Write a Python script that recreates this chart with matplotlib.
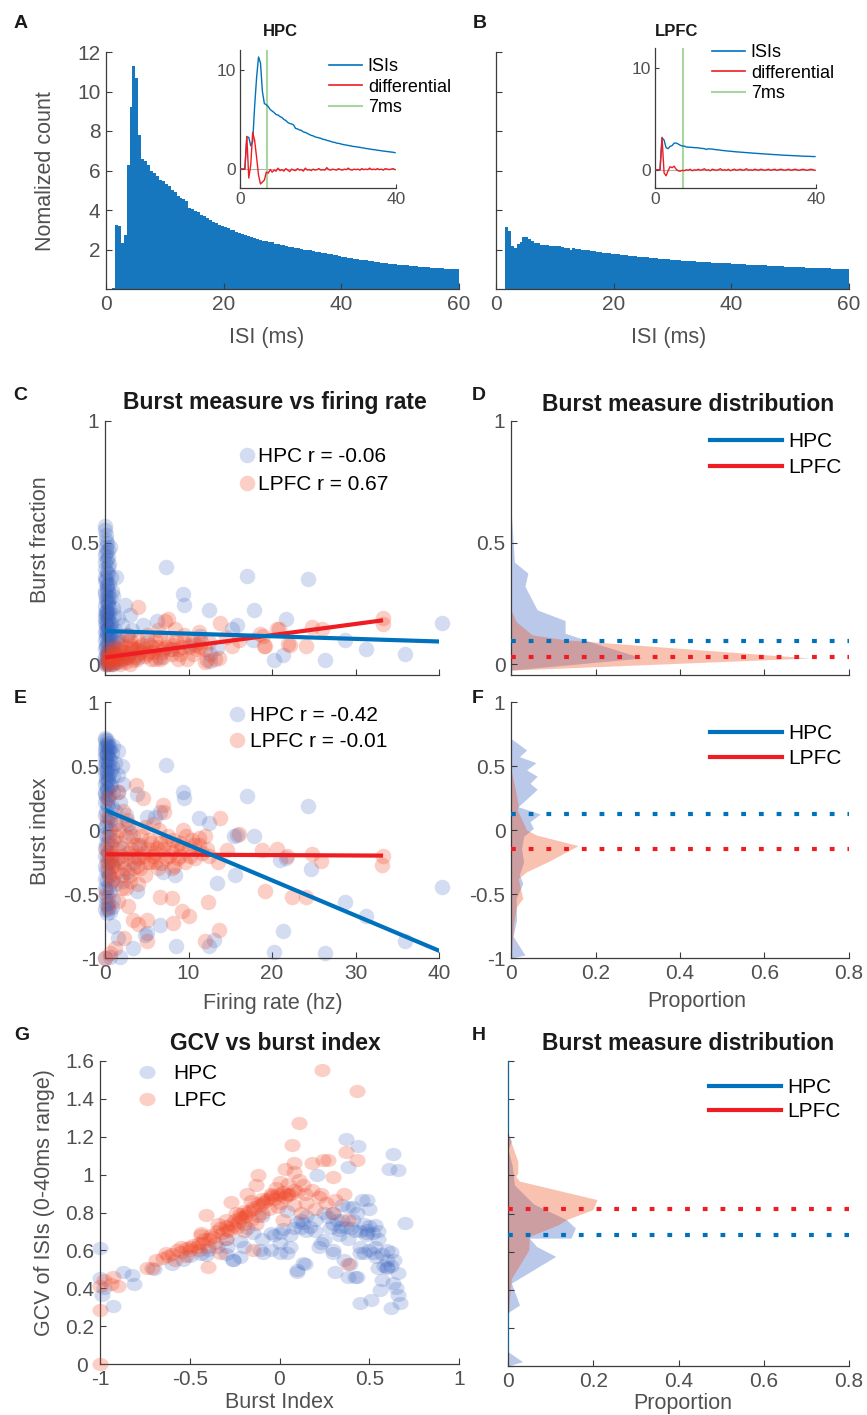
"""
Burst analysis figure: ISI histograms (A, B), burst measures vs firing rate (C, E),
their distributions (D, F), and GCV vs burst index (G, H).
"""

import matplotlib
matplotlib.use("Agg")
import matplotlib.pyplot as plt
import numpy as np
from matplotlib.lines import Line2D
from matplotlib.path import Path

plt.rcParams["font.family"] = ["Liberation Sans", "DejaVu Sans"]

W, H = 867, 1415

BAR = "#1677be"
BLUE = "#0072bd"
RED = "#ee1d23"
HPC_C = "#3a64c0"
LPFC_C = "#f04424"
GREEN = "#a8d5a0"
TICK = "#505050"
SPINE = "#3c3c3c"
INK = "#1a1a1a"

TICK_PT = 15
LABEL_PT = 15.5
LEG_PT = 15
TITLE_PT = 16.5

# ---------------- data ----------------
BIN_MS = 0.5  # ISI histogram bin width

# normalized ISI counts, 0-60 ms in 0.5 ms bins
hpc_isi = [
    0, 0, 0.05, 3.25, 3.2, 2.35, 2.75, 6.3, 9.2, 11.3,
    10.7, 7.8, 6.6, 6.5, 6.3, 6.0, 5.85, 5.7, 5.5, 5.45,
    5.3, 5.2, 5.0, 4.9, 4.7, 4.6, 4.55, 4.45, 4.1, 4.05,
    3.95, 3.9, 3.75, 3.7, 3.6, 3.5, 3.4, 3.35, 3.25, 3.2,
    3.15, 3.1, 3.0, 2.98, 2.9, 2.85, 2.8, 2.72, 2.7, 2.62,
    2.6, 2.55, 2.5, 2.45, 2.43, 2.38, 2.36, 2.3, 2.28, 2.25,
    2.22, 2.2, 2.15, 2.13, 2.08, 2.06, 2.02, 2.0, 1.96, 1.95,
    1.9, 1.88, 1.85, 1.82, 1.8, 1.77, 1.75, 1.72, 1.7, 1.66,
    1.62, 1.6, 1.58, 1.55, 1.54, 1.5, 1.49, 1.46, 1.45, 1.42,
    1.4, 1.38, 1.37, 1.34, 1.33, 1.3, 1.29, 1.27, 1.26, 1.24,
    1.22, 1.21, 1.19, 1.18, 1.16, 1.15, 1.13, 1.12, 1.1, 1.1,
    1.08, 1.07, 1.06, 1.05, 1.04, 1.03, 1.02, 1.01, 1.0, 0.99,
]
lpfc_isi = [
    0, 0, 0, 3.15, 2.93, 2.17, 2.08, 2.3, 2.38, 2.62,
    2.63, 2.54, 2.42, 2.34, 2.33, 2.25, 2.22, 2.22, 2.2, 2.18,
    2.17, 2.16, 2.12, 2.1, 2.08, 2.0, 2.06, 2.05, 2.03, 2.0,
    1.97, 1.96, 1.93, 1.9, 1.88, 1.86, 1.84, 1.82, 1.8, 1.78,
    1.76, 1.75, 1.73, 1.72, 1.7, 1.69, 1.67, 1.66, 1.64, 1.63,
    1.61, 1.6, 1.58, 1.57, 1.56, 1.54, 1.53, 1.52, 1.5, 1.49,
    1.48, 1.47, 1.45, 1.44, 1.43, 1.42, 1.41, 1.4, 1.39, 1.38,
    1.37, 1.36, 1.35, 1.34, 1.33, 1.33, 1.32, 1.31, 1.3, 1.3,
    1.29, 1.28, 1.27, 1.26, 1.25, 1.24, 1.24, 1.23, 1.22, 1.21,
    1.2, 1.19, 1.18, 1.17, 1.17, 1.16, 1.15, 1.14, 1.13, 1.13,
    1.12, 1.11, 1.1, 1.1, 1.09, 1.08, 1.08, 1.07, 1.06, 1.06,
    1.05, 1.05, 1.04, 1.04, 1.03, 1.03, 1.02, 1.02, 1.01, 1.01,
]

# differential of the ISI curve (first 40 ms), per 0.5 ms bin
hpc_diff = [
    0, 0, 0, 3.3, -0.9, 0.4, 3.7, 2.9, 1.2, -0.6,
    -1.5, -1.3, -1.1, -0.3, -0.4, -0.05, -0.3, -0.1, -0.2, 0.1,
    -0.15, -0.05, -0.2, 0.05, -0.1, -0.25, 0.0, -0.1, -0.15, 0.05,
    -0.1, -0.05, -0.2, 0.1, -0.1, -0.05, -0.15, 0.0, -0.1, -0.05,
    0.05, -0.1, -0.05, -0.1, 0.15, -0.05, -0.1, 0.0, -0.05, -0.1,
    0.05, -0.05, -0.1, 0.0, -0.05, 0.1, -0.05, -0.1, 0.0, -0.05,
    0.0, -0.1, 0.05, -0.05, 0.0, -0.05, 0.1, -0.05, 0.0, -0.05,
    0.05, -0.05, 0.0, -0.1, 0.05, 0.0, -0.05, 0.0, 0.05, -0.05,
]
lpfc_diff = [
    0, 0, 0, 3.2, -0.3, -0.6, -0.1, 0.3, 0.2, 0.35,
    0.05, -0.1, -0.15, -0.05, -0.1, 0.0, -0.05, 0.05, -0.1, 0.0,
    -0.05, 0.05, -0.05, 0.0, 0.1, -0.05, 0.0, -0.1, 0.05, 0.0,
    -0.05, 0.0, 0.1, -0.05, 0.0, -0.05, 0.05, -0.1, 0.0, 0.05,
    -0.05, 0.0, 0.05, -0.05, 0.0, 0.1, -0.05, 0.0, -0.05, 0.05,
    0.0, -0.05, 0.05, 0.0, -0.05, 0.0, 0.05, -0.05, 0.0, 0.05,
    -0.05, 0.0, 0.05, 0.0, -0.05, 0.0, 0.05, -0.05, 0.0, 0.05,
    0.0, -0.05, 0.0, 0.05, 0.0, -0.05, 0.0, 0.05, 0.0, -0.05,
]
burst_cut_ms = 7

# C: firing rate (hz) vs burst fraction
hpc_rate_frac = [
    (0.05, 0.57), (0.1, 0.53), (0.2, 0.50), (0.6, 0.48), (0.1, 0.46), (0.3, 0.44),
    (0.05, 0.42), (0.4, 0.40), (0.2, 0.38), (1.3, 0.36), (0.1, 0.35), (0.5, 0.33),
    (0.2, 0.31), (0.8, 0.30), (0.05, 0.29), (0.3, 0.28), (0.6, 0.27), (0.1, 0.26),
    (2.4, 0.245), (0.4, 0.24), (1.0, 0.23), (0.2, 0.22), (3.0, 0.20), (0.5, 0.21),
    (0.1, 0.20), (1.5, 0.19), (0.3, 0.18), (0.7, 0.17), (2.0, 0.16), (0.1, 0.16),
    (0.4, 0.15), (1.2, 0.14), (0.2, 0.13), (0.6, 0.12), (2.6, 0.12), (0.1, 0.11),
    (0.9, 0.10), (0.3, 0.09), (1.8, 0.08), (0.1, 0.07), (0.5, 0.06), (3.5, 0.06),
    (0.2, 0.05), (1.1, 0.04), (0.05, 0.03), (0.4, 0.02), (2.2, 0.02), (0.1, 0.01),
    (0.7, 0.0), (0.2, 0.0), (1.5, 0.01), (4.0, 0.03), (0.3, 0.04), (0.8, 0.08),
    (1.6, 0.11), (0.15, 0.14), (0.35, 0.25), (0.25, 0.33), (0.45, 0.12), (0.05, 0.19),
    (0.0, 0.55), (0.15, 0.51), (0.3, 0.47), (0.0, 0.45), (0.2, 0.43), (0.5, 0.41),
    (0.0, 0.39), (0.3, 0.37), (0.7, 0.36), (0.0, 0.34), (0.2, 0.32), (0.4, 0.30),
    (0.0, 0.30), (0.9, 0.28), (0.1, 0.27), (0.3, 0.26), (0.0, 0.24), (0.6, 0.23),
    (0.2, 0.21), (0.0, 0.21), (1.1, 0.20), (0.4, 0.19), (0.1, 0.18), (0.0, 0.17),
    (0.6, 0.16), (0.3, 0.15), (0.0, 0.13), (0.9, 0.13), (0.2, 0.12), (0.5, 0.11),
    (0.0, 0.10), (1.3, 0.10), (0.3, 0.08), (0.1, 0.08), (0.7, 0.07), (0.0, 0.06),
    (0.4, 0.05), (0.9, 0.05), (0.2, 0.03), (0.0, 0.02), (0.6, 0.02), (1.2, 0.02),
    (0.3, 0.01), (0.0, 0.0), (0.5, 0.0), (1.0, 0.0), (0.15, 0.22), (0.25, 0.16),
    (0.05, 0.36), (0.1, 0.48),
    (7.3, 0.40), (17.0, 0.364), (24.3, 0.348), (9.3, 0.287), (9.5, 0.241), (12.5, 0.222),
    (17.9, 0.222), (6.2, 0.176), (15.8, 0.16), (15.2, 0.143), (21.7, 0.184), (40.4, 0.17),
    (28.8, 0.10), (31.2, 0.064), (35.9, 0.04), (20.2, 0.016), (21.3, 0.037), (26.4, 0.016),
    (12.6, 0.012), (12.6, 0.04), (13.4, 0.065), (17.7, 0.10), (11.4, 0.116), (5.0, 0.09),
    (3.2, 0.14), (6.5, 0.03), (8.0, 0.06), (4.5, 0.16), (2.8, 0.03), (10.2, 0.08),
]
lpfc_rate_frac = [
    (0.1, 0.0), (0.3, 0.01), (0.5, 0.02), (0.8, 0.0), (1.0, 0.03), (1.3, 0.01),
    (1.6, 0.04), (2.0, 0.02), (2.3, 0.05), (2.6, 0.03), (3.0, 0.0), (3.4, 0.018),
    (3.7, 0.06), (4.0, 0.04), (4.4, 0.08), (4.8, 0.033), (5.2, 0.05), (5.6, 0.07),
    (6.0, 0.02), (6.6, 0.02), (7.0, 0.06), (7.5, 0.09), (8.0, 0.04), (8.4, 0.143),
    (8.7, 0.02), (9.2, 0.07), (9.8, 0.02), (10.5, 0.10), (11.0, 0.06), (11.5, 0.09),
    (12.0, 0.06), (12.0, 0.008), (12.2, 0.016), (13.2, 0.02), (13.6, 0.023), (13.8, 0.17),
    (4.0, 0.233), (7.2, 0.176), (7.5, 0.184), (15.2, 0.074), (18.6, 0.123), (18.9, 0.116),
    (19.2, 0.074), (19.0, 0.075), (20.6, 0.143), (20.8, 0.146), (21.9, 0.082), (22.2, 0.08),
    (24.1, 0.075), (24.8, 0.153), (26.0, 0.146), (33.3, 0.19), (33.3, 0.164), (6.6, 0.11),
    (5.0, 0.12), (2.0, 0.09), (0.5, 0.06), (1.2, 0.07), (3.0, 0.10), (9.5, 0.12),
    (10.5, 0.04), (14.5, 0.11), (16.0, 0.10), (0.2, 0.04), (1.8, 0.0), (2.8, 0.12),
    (6.3, 0.14), (11.2, 0.13),
    (0.2, 0.02), (0.6, 0.03), (0.9, 0.05), (1.4, 0.02), (1.7, 0.06), (2.2, 0.03),
    (2.5, 0.07), (2.9, 0.04), (3.2, 0.06), (3.5, 0.03), (3.9, 0.07), (4.2, 0.05),
    (4.6, 0.06), (5.0, 0.04), (5.4, 0.08), (5.8, 0.05), (6.2, 0.07), (6.8, 0.05),
    (7.3, 0.07), (7.8, 0.06), (8.2, 0.08), (8.8, 0.06), (9.4, 0.09), (10.0, 0.07),
    (10.8, 0.08), (11.4, 0.07), (12.4, 0.09), (0.4, 0.0), (1.1, 0.01), (2.4, 0.01),
    (3.8, 0.02), (5.5, 0.02), (7.0, 0.03), (8.5, 0.1), (6.0, 0.1), (4.0, 0.1),
    (2.0, 0.05), (1.0, 0.04), (3.0, 0.08), (9.0, 0.04),
]

# E: firing rate (hz) vs burst index
hpc_rate_bidx = [
    (0.05, 0.72), (0.2, 0.70), (0.4, 0.68), (0.1, 0.66), (0.6, 0.65), (0.3, 0.63),
    (0.05, 0.61), (0.8, 0.60), (0.2, 0.58), (0.5, 0.56), (0.1, 0.54), (1.2, 0.52),
    (0.3, 0.50), (0.05, 0.48), (0.7, 0.46), (0.2, 0.44), (1.5, 0.43), (0.4, 0.40),
    (0.1, 0.38), (2.2, 0.36), (0.6, 0.34), (0.2, 0.32), (1.0, 0.30), (0.05, 0.28),
    (0.4, 0.25), (1.8, 0.22), (0.2, 0.20), (0.8, 0.18), (0.1, 0.15), (2.5, 0.12),
    (0.5, 0.10), (0.2, 0.07), (1.3, 0.05), (0.05, 0.02), (0.6, 0.0), (3.0, -0.02),
    (0.2, -0.05), (1.0, -0.08), (0.1, -0.11), (2.0, -0.14), (0.4, -0.17), (0.05, -0.20),
    (1.5, -0.22), (0.3, -0.25), (0.8, -0.28), (0.1, -0.31), (2.6, -0.33), (0.5, -0.36),
    (0.2, -0.39), (1.2, -0.42), (0.05, -0.45), (0.6, -0.48), (0.3, -0.52), (1.0, -0.55),
    (0.1, -0.58), (0.4, -0.62), (0.2, -0.65), (3.5, -0.25), (4.2, -0.12), (2.8, 0.05),
    (5.0, 0.10), (3.8, 0.28),
    (0.0, 0.70), (0.15, 0.67), (0.3, 0.66), (0.0, 0.64), (0.45, 0.62), (0.1, 0.60),
    (0.25, 0.59), (0.0, 0.57), (0.6, 0.55), (0.15, 0.53), (0.35, 0.52), (0.0, 0.51),
    (0.8, 0.49), (0.2, 0.47), (0.05, 0.45), (0.45, 0.44), (1.0, 0.42), (0.1, 0.41),
    (0.3, 0.38), (0.0, 0.36), (0.7, 0.35), (0.2, 0.33), (0.0, 0.30), (0.5, 0.28),
    (0.1, 0.26), (0.0, 0.22), (0.3, 0.18), (0.0, 0.12), (0.6, 0.08), (0.1, 0.03),
    (0.0, -0.03), (0.4, -0.09), (0.0, -0.14), (0.2, -0.2), (0.7, -0.24), (0.0, -0.28),
    (0.3, -0.33), (0.0, -0.38), (0.5, -0.43), (0.1, -0.47), (0.0, -0.52), (0.3, -0.57),
    (0.0, -0.62), (0.8, -0.6), (1.5, 0.62), (1.0, 0.66), (2.0, 0.50), (1.6, 0.30),
    (1.2, 0.15), (2.2, -0.4),
    (7.3, 0.506), (9.3, 0.30), (9.5, 0.247), (17.0, 0.265), (24.3, 0.19), (11.2, 0.096),
    (12.5, 0.052), (6.0, 0.104), (6.6, 0.143), (15.4, -0.044), (15.8, -0.04), (17.9, -0.047),
    (20.9, -0.234), (21.7, -0.216), (24.7, -0.304), (15.6, -0.35), (7.0, -0.33), (8.4, -0.35),
    (13.4, -0.416), (28.8, -0.564), (31.3, -0.675), (40.4, -0.447), (35.9, -0.87), (21.3, -0.79),
    (20.2, -0.95), (26.4, -0.96), (13.0, -0.857), (12.5, -0.91), (8.5, -0.91), (6.6, -0.74),
    (5.0, -0.805), (3.4, -0.92), (1.6, -0.844), (0.6, -0.99), (1.8, -0.99), (0.0, -1.0),
    (0.6, -0.64), (3.8, -0.48), (4.8, -0.82), (1.0, -0.75),
]
lpfc_rate_bidx = [
    (0.1, -0.15), (0.3, -0.30), (0.5, -0.05), (0.2, 0.1), (0.8, -0.40), (1.0, -0.20),
    (1.2, 0.05), (1.5, -0.32), (1.8, -0.10), (2.0, -0.25), (2.2, 0.15), (2.5, -0.45),
    (2.8, -0.18), (3.0, 0.02), (3.3, -0.30), (3.6, -0.12), (3.7, 0.35), (4.0, -0.22),
    (4.3, -0.05), (4.6, 0.247), (4.8, -0.35), (5.1, -0.15), (5.4, -0.25), (5.7, 0.05),
    (6.0, -0.18), (6.3, -0.30), (6.6, -0.10), (6.9, 0.195), (7.1, 0.143), (7.3, -0.22),
    (7.6, -0.05), (8.0, -0.17), (8.3, -0.28), (8.6, -0.12), (9.0, -0.20), (9.3, 0.0),
    (9.6, -0.25), (10.0, -0.15), (10.4, -0.08), (10.8, -0.22), (11.2, -0.12), (11.6, -0.18),
    (12.0, -0.05), (12.5, -0.20), (13.5, -0.247), (13.8, 0.09), (14.6, -0.16), (16.0, -0.03),
    (18.8, -0.156), (20.6, -0.15), (21.8, -0.2), (24.8, -0.19), (25.9, -0.24), (33.3, -0.2),
    (33.2, -0.27), (19.2, -0.48), (22.4, -0.52), (24.1, -0.52), (12.3, -0.564), (9.2, -0.636),
    (10.1, -0.67), (6.6, -0.52), (8.0, -0.532), (13.6, -0.78), (12.0, -0.87), (5.0, -0.70),
    (5.0, -0.87), (8.2, -0.73), (3.4, -0.70), (4.0, -0.735), (2.3, -0.844), (1.2, -0.92),
    (0.6, -0.96), (0.0, -1.0), (1.6, -0.558), (2.8, -0.597), (0.4, 0.25), (1.5, 0.30),
    (0.1, -0.5), (0.3, -0.6), (2.0, -0.35), (3.0, -0.40), (1.0, -0.28), (0.6, -0.22),
    (4.5, -0.20), (3.8, -0.28), (5.5, -0.10), (2.5, -0.05), (7.0, -0.15), (9.0, -0.10),
    (6.0, -0.25),
    (0.3, -0.18), (0.7, -0.12), (1.1, -0.25), (1.4, -0.15), (1.9, -0.2), (2.3, -0.3),
    (2.7, -0.22), (3.1, -0.15), (3.5, -0.2), (3.9, -0.12), (4.2, -0.3), (4.6, -0.18),
    (5.0, -0.25), (5.3, -0.08), (5.8, -0.2), (6.2, -0.14), (6.7, -0.26), (7.2, -0.1),
    (7.7, -0.2), (8.2, -0.08), (8.7, -0.22), (9.1, -0.14), (9.7, -0.05), (10.2, -0.2),
    (10.7, -0.12), (11.3, -0.06), (12.2, -0.15), (1.0, -0.38), (2.0, -0.45), (3.0, -0.35),
    (4.0, -0.42), (0.5, -0.35), (1.7, 0.0), (2.6, 0.08), (6.5, 0.0), (8.0, -0.3),
    (4.8, 0.02), (0.2, -0.25), (1.3, -0.05), (3.4, -0.05),
]

# linear fits (intercept, slope) and correlation coefficients
hpc_fit_frac = (0.136, -0.00108)
lpfc_fit_frac = (0.027, 0.0046)
hpc_fit_bidx = (0.157, -0.0275)
lpfc_fit_bidx = (-0.19, -0.0003)
r_frac = {"HPC": -0.06, "LPFC": 0.67}
r_bidx = {"HPC": -0.42, "LPFC": -0.01}

# G: burst index vs GCV of ISIs
hpc_bidx_gcv = [
    (-1.0, 0.61), (-1.0, 0.452), (-0.93, 0.308), (-0.99, 0.364), (-0.87, 0.487), (-0.81, 0.425),
    (-0.82, 0.47), (-0.54, 0.55), (-0.44, 0.58), (-0.41, 0.575), (-0.26, 0.55), (-0.22, 0.566),
    (-0.09, 0.584), (-0.05, 0.60), (0.04, 0.584), (0.1, 0.487), (0.14, 0.53), (0.06, 0.68),
    (0.12, 0.76), (0.17, 0.724), (0.22, 0.62), (0.25, 0.654), (0.3, 0.584), (0.31, 0.487),
    (0.36, 0.55), (0.39, 0.53), (0.42, 0.46), (0.45, 0.32), (0.51, 0.34), (0.45, 0.584),
    (0.49, 0.69), (0.46, 0.865), (0.41, 0.83), (0.32, 0.76), (0.3, 0.795), (0.37, 0.724),
    (0.53, 0.733), (0.52, 0.69), (0.55, 0.505), (0.6, 0.505), (0.6, 0.6), (0.62, 0.594),
    (0.66, 0.478), (0.57, 0.446), (0.65, 0.4), (0.66, 0.364), (0.62, 0.294), (0.67, 0.32),
    (0.56, 0.39), (0.7, 0.745), (0.63, 1.11), (0.61, 1.03), (0.66, 1.023), (0.37, 1.19),
    (0.44, 1.15), (0.38, 1.04), (0.21, 1.0), (0.53, 0.62), (0.52, 0.584), (-0.22, 0.65),
    (-0.29, 0.62), (-0.03, 0.68), (0.02, 0.715), (-0.15, 0.69), (0.13, 0.745), (0.34, 0.724),
    (0.49, 0.71), (0.27, 0.777), (0.41, 0.76), (0.47, 0.585), (0.54, 0.565), (0.6, 0.51),
    (0.63, 0.43), (0.49, 0.866), (0.38, 0.83), (0.13, 0.533), (0.10, 0.496), (0.0, 0.586),
    (-0.05, 0.69), (-0.11, 0.60), (-0.26, 0.55), (0.0, 0.69), (0.04, 0.81), (0.23, 0.64),
    (0.30, 0.60), (0.38, 0.46), (0.43, 0.46), (-0.35, 0.62), (-0.6, 0.53), (-0.7, 0.50),
    (-0.3, 0.66), (-0.18, 0.72), (-0.1, 0.78), (0.08, 0.72), (0.15, 0.70), (0.2, 0.76),
    (0.33, 0.68), (0.42, 0.70), (0.47, 0.74), (0.55, 0.66), (0.58, 0.52), (0.64, 0.55),
    (-0.98, 0.40),
    (0.10, 0.75), (0.15, 0.78), (0.12, 0.72), (0.3, 0.74), (0.35, 0.76), (0.4, 0.72),
    (0.33, 0.71), (0.45, 0.70), (0.5, 0.73), (0.48, 0.68), (0.55, 0.70), (0.38, 0.66),
    (0.28, 0.72), (0.2, 0.70), (0.25, 0.8), (0.5, 0.6), (0.57, 0.58), (0.6, 0.55),
    (0.62, 0.52), (0.45, 0.62), (-0.2, 0.62), (-0.4, 0.6), (-0.3, 0.58), (-0.5, 0.57),
    (0.06, 0.62), (0.0, 0.64), (-0.1, 0.66), (0.43, 0.8), (0.5, 0.82), (0.35, 0.84),
]
lpfc_bidx_gcv = [
    (-1.0, 0.0), (-1.0, 0.285), (-1.0, 0.41), (-0.98, 0.443), (-0.93, 0.46), (-0.94, 0.425),
    (-0.9, 0.41), (-0.74, 0.505), (-0.71, 0.505), (-0.69, 0.55), (-0.63, 0.584), (-0.55, 0.62),
    (-0.5, 0.62), (-0.44, 0.69), (-0.41, 0.786), (-0.4, 0.513), (-0.27, 0.856), (-0.3, 0.76),
    (-0.22, 0.777), (-0.18, 0.9), (-0.13, 0.944), (-0.12, 0.997), (-0.15, 0.602), (-0.33, 0.584),
    (-0.05, 0.9), (0.04, 0.9), (0.0, 0.96), (0.03, 1.03), (0.08, 1.06), (0.07, 1.155),
    (0.11, 1.27), (0.08, 1.015), (0.13, 0.944), (0.11, 0.97), (0.18, 1.06), (0.24, 1.076),
    (0.27, 1.076), (0.3, 0.988), (0.235, 1.55), (0.43, 1.44), (0.37, 1.12), (0.43, 1.076),
    (0.36, 0.9), (0.38, 0.76), (0.38, 0.53), (0.23, 0.9), (0.15, 0.85), (0.31, 0.865),
    (0.02, 0.76), (-0.01, 0.83),
    (-0.65, 0.56), (-0.6, 0.58), (-0.57, 0.60), (-0.52, 0.61), (-0.48, 0.63), (-0.45, 0.64),
    (-0.42, 0.66), (-0.38, 0.68), (-0.35, 0.70), (-0.33, 0.72), (-0.3, 0.73), (-0.27, 0.74),
    (-0.25, 0.76), (-0.22, 0.79), (-0.2, 0.81), (-0.18, 0.80), (-0.15, 0.83), (-0.12, 0.85),
    (-0.1, 0.87), (-0.08, 0.86), (-0.05, 0.88), (-0.03, 0.87), (0.0, 0.89), (0.03, 0.88),
    (0.06, 0.90), (0.1, 0.91), (0.14, 0.90), (0.18, 0.92), (0.22, 0.88), (-0.4, 0.62),
    (-0.36, 0.64), (-0.28, 0.70), (-0.24, 0.72), (-0.16, 0.76), (-0.1, 0.80), (-0.06, 0.82),
    (-0.2, 0.70), (-0.13, 0.74), (-0.45, 0.60), (-0.52, 0.57), (-0.58, 0.55), (-0.3, 0.66),
    (0.08, 0.84), (0.12, 0.80), (0.2, 0.82), (0.26, 0.85), (0.3, 0.80), (0.05, 0.95),
    (-0.02, 0.93),
    (-0.62, 0.57), (-0.55, 0.59), (-0.5, 0.6), (-0.46, 0.62), (-0.43, 0.64), (-0.39, 0.66),
    (-0.37, 0.67), (-0.32, 0.69), (-0.29, 0.71), (-0.26, 0.73), (-0.23, 0.75), (-0.21, 0.77),
    (-0.19, 0.78), (-0.17, 0.81), (-0.14, 0.82), (-0.11, 0.84), (-0.09, 0.85), (-0.07, 0.87),
    (-0.04, 0.89), (-0.01, 0.9), (0.02, 0.91), (0.05, 0.89), (0.08, 0.92), (-0.16, 0.86),
    (-0.24, 0.80), (-0.34, 0.74), (-0.44, 0.68), (-0.2, 0.74), (-0.12, 0.78), (0.0, 0.85),
]

# distributions: (value, proportion) outline vertices
hpc_frac_dist = [(-0.025, 0), (0.025, 0.31), (0.085, 0.2), (0.127, 0.128), (0.179, 0.128),
                 (0.223, 0.062), (0.32, 0.033), (0.374, 0.04), (0.42, 0.008), (0.6, 0.0015), (0.62, 0)]
lpfc_frac_dist = [(-0.025, 0), (0.025, 0.707), (0.1, 0.128), (0.12, 0.05), (0.175, 0.012), (0.223, 0)]
hpc_bidx_dist = [(-1.0, 0), (-0.977, 0.033), (-0.83, 0.005), (-0.703, 0.013), (-0.534, 0.012),
                 (-0.417, 0.028), (-0.35, 0.02), (-0.25, 0.03), (-0.15, 0.025), (-0.05, 0.03),
                 (0.013, 0.053), (0.065, 0.045), (0.125, 0.069), (0.182, 0.017), (0.318, 0.062),
                 (0.365, 0.045), (0.42, 0.062), (0.469, 0.037), (0.526, 0.059), (0.573, 0.02),
                 (0.625, 0.037), (0.715, 0)]
lpfc_bidx_dist = [(-0.99, 0), (-0.94, 0.002), (-0.73, 0.006), (-0.6, 0.013), (-0.534, 0.028),
                  (-0.378, 0.017), (-0.326, 0.037), (-0.247, 0.088), (-0.122, 0.159), (-0.04, 0.061),
                  (0.0, 0.037), (0.156, 0.015), (0.195, 0.017), (0.339, 0.009), (0.469, 0)]
hpc_gcv_dist = [(0.0, 0), (0.023, 0.034), (0.075, 0.0), (0.277, 0.0), (0.286, 0.004), (0.32, 0.027),
                (0.435, 0.008), (0.575, 0.112), (0.627, 0.067), (0.671, 0.05), (0.671, 0.148),
                (0.724, 0.158), (0.768, 0.137), (0.85, 0.06), (0.95, 0.015), (1.05, 0.01),
                (1.136, 0.0), (1.18, 0.008), (1.22, 0.0), (1.6, 0.0)]
lpfc_gcv_dist = [(0.242, 0), (0.365, 0.004), (0.46, 0.008), (0.513, 0.023), (0.61, 0.049),
                 (0.68, 0.05), (0.74, 0.117), (0.768, 0.137), (0.82, 0.199), (0.873, 0.209),
                 (0.97, 0.027), (0.995, 0.018), (1.013, 0.023), (1.074, 0.023), (1.2, 0.003), (1.22, 0)]

# group centres drawn as dotted lines
frac_center = {"HPC": 0.094, "LPFC": 0.029}
bidx_center = {"HPC": 0.125, "LPFC": -0.148}
gcv_center = {"HPC": 0.686, "LPFC": 0.824}

# ---------------- drawing helpers ----------------
fig = plt.figure(figsize=(W / 100, H / 100), dpi=100)


def add_ax(l, t, r, b):
    return fig.add_axes([l / W, 1 - b / H, (r - l) / W, (b - t) / H])


def ftext(x, y, s, **kw):
    kw.setdefault("ha", "center")
    kw.setdefault("va", "center")
    fig.text(x / W, 1 - y / H, s, **kw)


def style(ax, size=TICK_PT, length=4):
    for s in ("top", "right"):
        ax.spines[s].set_visible(False)
    for s in ("left", "bottom"):
        ax.spines[s].set_color(SPINE)
        ax.spines[s].set_linewidth(0.9)
    ax.tick_params(direction="in", length=length, width=0.8, color=SPINE,
                   labelcolor=TICK, labelsize=size)
    ax.tick_params(axis="x", pad=4.5 if size >= 14 else 3)
    ax.tick_params(axis="y", pad=4 if size >= 14 else 3)


def line_legend(ax, x, top, spacing):
    handles = [Line2D([], [], color=c, lw=3) for c in (BLUE, RED)]
    ax.legend(handles, ["HPC", "LPFC"], loc="upper left", bbox_to_anchor=(x / W, 1 - top / H),
              bbox_transform=fig.transFigure, frameon=False, fontsize=LEG_PT,
              handlelength=3.45, handletextpad=0.3, borderpad=0, borderaxespad=0,
              labelspacing=spacing)


def dot_legend(ax, labels, x, top, marker, ms, hl=1.0, pad=0.05, spacing=0.4):
    handles = [
        Line2D([], [], ls="", marker=marker, markersize=ms, markerfacecolor=HPC_C,
               markeredgecolor="none", alpha=0.22),
        Line2D([], [], ls="", marker=marker, markersize=ms, markerfacecolor=LPFC_C,
               markeredgecolor="none", alpha=0.26),
    ]
    ax.legend(handles, labels, loc="upper left", bbox_to_anchor=(x / W, 1 - top / H),
              bbox_transform=fig.transFigure, frameon=False, fontsize=LEG_PT,
              handlelength=hl, handletextpad=pad, borderpad=0, borderaxespad=0,
              labelspacing=spacing)


def scatter_pair(ax, hpc, lpfc, marker="o", s=125):
    hx, hy = np.array(hpc).T
    lx, ly = np.array(lpfc).T
    ax.scatter(hx, hy, s=s, marker=marker, color=HPC_C, alpha=0.22, lw=0, clip_on=False, zorder=2)
    ax.scatter(lx, ly, s=s, marker=marker, color=LPFC_C, alpha=0.26, lw=0, clip_on=False, zorder=3)


def fit_lines(ax, hpc, lpfc, hpc_fit, lpfc_fit):
    for pts, fit, col, z in ((lpfc, lpfc_fit, RED, 4), (hpc, hpc_fit, BLUE, 5)):
        xmax = np.array(pts)[:, 0].max()
        xs = np.array([0, xmax])
        ax.plot(xs, fit[0] + fit[1] * xs, color=col, lw=3, zorder=z, solid_capstyle="butt")


def dist_panel(ax, hpc, lpfc, centers):
    for pts, col in ((hpc, HPC_C), (lpfc, "#f0501e")):
        y, p = np.array(pts).T
        ax.fill_betweenx(y, 0, p, color=col, alpha=0.35, lw=0)
    y, p = np.array(hpc).T
    ax.plot(np.where(p == 0, 0.0, np.nan), y, color=BLUE, lw=1.2, zorder=3)
    for key, col in (("HPC", BLUE), ("LPFC", RED)):
        ax.axhline(centers[key], color=col, lw=3, ls=(0, (1.15, 3.1)), zorder=4)
    ax.set_xlim(0, 0.8)
    ax.set_xticks([0, 0.2, 0.4, 0.6, 0.8])


def isi_inset(ax, isi, diff):
    n = len(diff)
    x = np.arange(n) * BIN_MS + BIN_MS / 2
    ax.axhline(0, color="#b0b0b0", lw=0.8, zorder=1)
    ax.plot(x, isi[:n], color=BLUE, lw=1.0, zorder=3)
    ax.plot(x, diff, color=RED, lw=1.0, zorder=3)
    ax.axvline(burst_cut_ms, color=GREEN, lw=1.5, zorder=2)
    ax.set_xlim(0, 40)
    ax.set_xticks([0, 40])
    ax.set_yticks([0, 10])
    style(ax, size=12.5, length=3)
    return [Line2D([], [], color=BLUE, lw=1.2), Line2D([], [], color=RED, lw=1.2),
            Line2D([], [], color=GREEN, lw=1.5)]


def isi_hist(ax, isi):
    edges = np.arange(len(isi) + 1) * BIN_MS
    ax.stairs(isi, edges, fill=True, color=BAR, lw=0)
    ax.set_xlim(0, 60)
    ax.set_ylim(0, 12)
    ax.set_xticks([0, 20, 40, 60])
    ax.set_yticks([2, 4, 6, 8, 10, 12])
    style(ax)


# ---------------- A / B ----------------
axA = add_ax(106, 52, 459, 289)
isi_hist(axA, hpc_isi)
axB = add_ax(496, 52, 849, 289)
isi_hist(axB, lpfc_isi)
axB.set_yticklabels([])

insA = add_ax(240, 50, 396, 188)
hA = isi_inset(insA, hpc_isi, hpc_diff)
insA.set_ylim(-1.9, 12)
insB = add_ax(655, 48, 816, 188)
hB = isi_inset(insB, lpfc_isi, lpfc_diff)
insB.set_ylim(-1.8, 12)
for ax, handles, x, top in ((insA, hA, 329, 58), (insB, hB, 712, 44)):
    ax.legend(handles, ["ISIs", "differential", "7ms"], loc="upper left",
              bbox_to_anchor=(x / W, 1 - top / H), bbox_transform=fig.transFigure,
              frameon=False, fontsize=13, handlelength=1.85, handletextpad=0.3,
              borderpad=0, borderaxespad=0, labelspacing=0.2)
ftext(280, 31, "HPC", fontsize=12, fontweight="bold", color=INK)
ftext(677, 31, "LPFC", fontsize=12, fontweight="bold", color=INK)

ftext(46, 171, "Nomalized count", rotation=90, fontsize=LABEL_PT, color=TICK)
ftext(267, 337, "ISI (ms)", fontsize=LABEL_PT, color=TICK)
ftext(669, 337, "ISI (ms)", fontsize=LABEL_PT, color=TICK)

# ---------------- C / D ----------------
axC = add_ax(105, 421, 439, 675)
scatter_pair(axC, hpc_rate_frac, lpfc_rate_frac)
fit_lines(axC, hpc_rate_frac, lpfc_rate_frac, hpc_fit_frac, lpfc_fit_frac)
axC.set_xlim(0, 40)
axC.set_ylim(-0.045, 1)
axC.set_xticks([0, 10, 20, 30, 40])
axC.set_xticklabels([])
axC.set_yticks([0, 0.5, 1])
axC.set_yticklabels(["0", "0.5", "1"])
style(axC)
dot_legend(axC, [f"HPC r = {r_frac['HPC']:.2f}", f"LPFC r = {r_frac['LPFC']:.2f}"],
           236.5, 447, "o", 11.2, pad=0.05, spacing=0.44)
ftext(40, 540, "Burst fraction", rotation=90, fontsize=LABEL_PT, color=TICK)

axD = add_ax(511, 421, 849, 675)
dist_panel(axD, hpc_frac_dist, lpfc_frac_dist, frac_center)
axD.set_ylim(-0.045, 1)
axD.set_yticks([0, 0.5, 1])
axD.set_yticklabels(["0", "0.5", "1"])
axD.set_xticklabels([])
style(axD)
line_legend(axD, 710, 432, 0.35)

# ---------------- E / F ----------------
axE = add_ax(105, 702, 439, 958)
scatter_pair(axE, hpc_rate_bidx, lpfc_rate_bidx)
fit_lines(axE, hpc_rate_bidx, lpfc_rate_bidx, hpc_fit_bidx, lpfc_fit_bidx)
axE.set_xlim(0, 40)
axE.set_ylim(-1, 1)
axE.set_xticks([0, 10, 20, 30, 40])
axE.set_yticks([-1, -0.5, 0, 0.5, 1])
axE.set_yticklabels(["-1", "-0.5", "0", "0.5", "1"])
style(axE)
dot_legend(axE, [f"HPC r = {r_bidx['HPC']:.2f}", f"LPFC r = {r_bidx['LPFC']:.2f}"],
           226.5, 706, "o", 11.2, pad=0.12, spacing=0.35)
ftext(41, 831, "Burst index", rotation=90, fontsize=LABEL_PT, color=TICK)
ftext(273, 1003, "Firing rate (hz)", fontsize=LABEL_PT, color=TICK)

axF = add_ax(511, 702, 849, 958)
dist_panel(axF, hpc_bidx_dist, lpfc_bidx_dist, bidx_center)
axF.set_ylim(-1, 1)
axF.set_yticks([-1, -0.5, 0, 0.5, 1])
axF.set_yticklabels(["-1", "-0.5", "0", "0.5", "1"])
axF.set_xticklabels(["0", "0.2", "0.4", "0.6", "0.8"])
style(axF)
line_legend(axF, 710, 724, 0.3)
ftext(697, 1002, "Proportion", fontsize=LABEL_PT, color=TICK)

# ---------------- G / H ----------------
circle = Path.unit_circle()
ellipse = Path(circle.vertices * np.array([1.22, 1.0]), circle.codes)

axG = add_ax(100, 1061, 459, 1364)
scatter_pair(axG, hpc_bidx_gcv, lpfc_bidx_gcv, marker=ellipse, s=135)
axG.set_xlim(-1, 1)
axG.set_ylim(0, 1.6)
axG.set_xticks([-1, -0.5, 0, 0.5, 1])
axG.set_xticklabels(["-1", "-0.5", "0", "0.5", "1"])
axG.set_yticks([0, 0.2, 0.4, 0.6, 0.8, 1.0, 1.2, 1.4, 1.6])
axG.set_yticklabels(["0", "0.2", "0.4", "0.6", "0.8", "1", "1.2", "1.4", "1.6"])
style(axG)
axG.yaxis.get_major_ticks()[0].set_pad(9)
dot_legend(axG, ["HPC", "LPFC"], 126, 1064, ellipse, 11.6, hl=2.0, pad=0.25, spacing=0.39)
ftext(45, 1203, "GCV of ISIs (0-40ms range)", rotation=90, fontsize=LABEL_PT, color=TICK)
ftext(279, 1403, "Burst Index", fontsize=LABEL_PT, color=TICK)

axH = add_ax(508, 1061, 849, 1366)
dist_panel(axH, hpc_gcv_dist, lpfc_gcv_dist, gcv_center)
axH.set_ylim(0, 1.6)
axH.set_yticks([0, 0.2, 0.4, 0.6, 0.8, 1.0, 1.2, 1.4, 1.6])
axH.set_yticklabels([])
axH.set_xticklabels(["0", "0.2", "0.4", "0.6", "0.8"])
style(axH)
line_legend(axH, 709, 1078, 0.25)
ftext(683, 1403, "Proportion", fontsize=LABEL_PT, color=TICK)

# ---------------- titles and panel letters ----------------
ftext(275, 403, "Burst measure vs firing rate", fontsize=TITLE_PT, fontweight="bold", color=INK)
ftext(688, 404, "Burst measure distribution", fontsize=TITLE_PT, fontweight="bold", color=INK)
ftext(275, 1043, "GCV vs burst index", fontsize=TITLE_PT, fontweight="bold", color=INK)
ftext(688, 1043, "Burst measure distribution", fontsize=TITLE_PT, fontweight="bold", color=INK)

for letter, x, y in (("A", 21, 23), ("B", 480, 23), ("C", 20, 396), ("D", 479, 395),
                     ("E", 20, 698), ("F", 478, 698), ("G", 22, 1035), ("H", 479, 1035)):
    ftext(x, y, letter, fontsize=14, fontweight="bold", color=INK)

fig.savefig("out.png", dpi=100)
